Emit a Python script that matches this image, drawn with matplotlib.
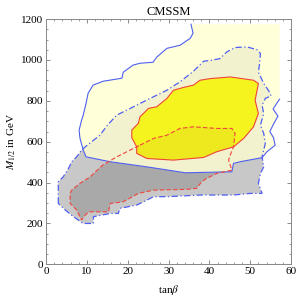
import matplotlib.pyplot as plt
import numpy as np
from matplotlib.patches import Polygon

plt.rcParams['font.family'] = ['Liberation Serif', 'DejaVu Serif']
plt.rcParams['mathtext.fontset'] = 'stix'

# outer contour (blue solid), light yellow region; last point = plot corner of the fill
y95_tb = [35.5, 36.0, 35.3, 32.8, 29.6, 27.1, 26.2, 23.0, 21.3, 18.9, 18.6, 14.0, 11.5, 10.3,
          9.8, 9.1, 8.7, 8.1, 8.3, 9.1, 9.8, 15.7, 24.7, 34.1, 45.5, 45.9, 47.5, 52.9, 54.1,
          56.1, 55.7, 54.8, 55.8, 56.8, 55.6, 56.9, 57.2, 57.2]
y95_m = [1175, 1131, 1106, 1072, 1057, 1014, 989, 984, 975, 940, 911, 896, 877, 837,
         788, 730, 705, 657, 618, 559, 526, 502, 477, 448, 453, 494, 502, 522, 551,
         583, 620, 650, 690, 725, 760, 800, 808, 1175]

# inner contour (red solid), yellow region
y68_tb = [21.0, 22.6, 23.0, 25.1, 27.1, 29.6, 31.2, 33.7, 36.1, 37.7, 40.2, 45.1, 50.8, 52.0,
          51.2, 52.0, 50.8, 48.4, 45.9, 41.8, 38.6, 31.2, 24.7, 22.2, 22.2, 21.0]
y68_m = [657, 690, 722, 763, 771, 812, 852, 866, 877, 901, 909, 917, 901, 885,
         803, 738, 673, 616, 575, 551, 523, 510, 518, 543, 575, 620]

# outer contour (blue dash-dot), gray region
g95_tb = [3.0, 3.0, 4.2, 5.5, 6.3, 7.5, 8.7, 9.6, 11.5, 13.2, 15.0, 17.3, 21.4, 25.5, 29.6,
          32.8, 36.1, 38.6, 40.6, 42.6, 44.3, 46.3, 49.2, 51.6, 52.5, 52.3, 52.0, 53.3,
          54.5, 55.1, 53.7, 52.9, 53.3, 52.5, 53.3, 53.7, 52.9, 53.3, 52.5, 52.0, 52.9,
          50.0, 45.9, 37.7, 29.6, 26.3, 24.7, 22.2, 18.1, 17.7, 15.7, 11.6, 11.6, 9.1,
          6.7, 4.7]
g95_m = [298, 404, 428, 469, 502, 526, 559, 575, 605, 632, 680, 730, 771, 812, 852,
         893, 945, 994, 999, 1007, 1040, 1061, 1064, 1051, 1032, 983, 940, 885,
         850, 825, 812, 779, 738, 681, 641, 592, 526, 477, 445, 396, 347,
         347, 339, 339, 331, 331, 314, 290, 274, 249, 249, 233, 200, 200,
         233, 266]

# inner contour (red dashed), dark gray region
g68_tb = [23.0, 26.3, 29.6, 32.8, 36.1, 41.8, 45.5, 46.3, 45.9, 45.1, 44.7, 45.5, 41.8, 39.3,
          38.1, 36.9, 34.5, 26.3, 22.6, 18.9, 15.7, 15.3, 10.4, 9.6, 8.7, 7.5, 5.9, 5.9,
          6.3, 8.3, 10.8, 13.9, 17.3, 20.6]
g68_m = [583, 616, 632, 665, 673, 665, 665, 641, 575, 534, 510, 461, 445, 420,
         404, 372, 367, 363, 347, 306, 298, 257, 257, 241, 217, 266, 298, 347,
         363, 396, 428, 486, 526, 559]

blue = '#4f5ff2'
red = '#f0443c'

fig = plt.figure(figsize=(2.97, 2.99), dpi=100)
ax = fig.add_axes([0.155, 0.116, 0.825, 0.82])

y95 = np.column_stack([y95_tb, y95_m])
y68 = np.column_stack([y68_tb, y68_m])
g95 = np.column_stack([g95_tb, g95_m])
g68 = np.column_stack([g68_tb, g68_m])

ax.add_patch(Polygon(g95, closed=True, fc='#c8c8c8', ec='none', zorder=1))
ax.add_patch(Polygon(g68, closed=True, fc='#a9a9a9', ec='none', zorder=2))
p_y95 = Polygon(y95, closed=True, fc='#ffffd9', ec='none', zorder=3)
ax.add_patch(p_y95)
beige = Polygon(g95, closed=True, fc='#f3f2cf', ec='none', zorder=4)
ax.add_patch(beige)
beige.set_clip_path(p_y95)
p_y68 = Polygon(y68, closed=True, fc='#f6f41f', ec='none', zorder=5)
ax.add_patch(p_y68)
dk = Polygon(g68, closed=True, fc='#ede91e', ec='none', zorder=6)
ax.add_patch(dk)
dk.set_clip_path(p_y68)

# blue solid line only along the contour, not the fill's corner
ax.plot(y95_tb[:-1], y95_m[:-1], color=blue, lw=0.8, zorder=7)
ax.add_patch(Polygon(y68, closed=True, fc='none', ec=red, lw=0.8, zorder=7))
ax.add_patch(Polygon(g95, closed=True, fc='none', ec=blue, lw=0.9,
                     ls=(0, (5, 2, 1, 2)), zorder=8))
ax.add_patch(Polygon(g68, closed=True, fc='none', ec=red, lw=0.8,
                     ls=(0, (4, 2)), zorder=8))

ax.set_xlim(0, 60)
ax.set_ylim(0, 1200)
ax.set_xticks(np.arange(0, 61, 10))
ax.set_xticks(np.arange(0, 61, 2), minor=True)
ax.set_yticks(np.arange(0, 1201, 200))
ax.set_yticks(np.arange(0, 1201, 50), minor=True)
ax.tick_params(which='both', direction='in', top=True, right=True, color='#777777',
               labelsize=8, pad=2)
ax.tick_params(which='major', length=3, width=0.6)
ax.tick_params(which='minor', length=1.5, width=0.5)
for s in ax.spines.values():
    s.set_color('#888888')
    s.set_linewidth(0.7)

ax.set_title('CMSSM', fontsize=9, pad=3)
ax.set_xlabel(r'tan$\beta$', fontsize=8, labelpad=5)
ax.set_ylabel(r'$M_{1/2}$ in GeV', fontsize=8, labelpad=2)

fig.savefig('out.png', dpi=100)
